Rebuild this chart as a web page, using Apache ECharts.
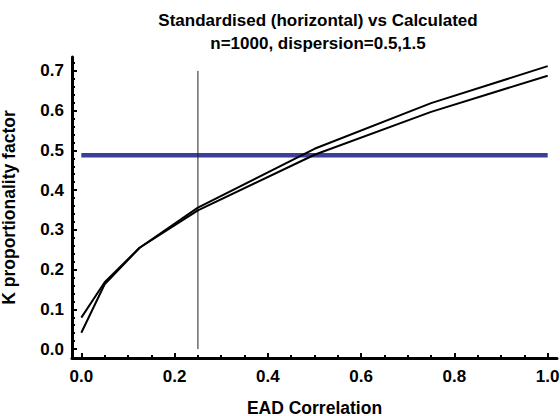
<!DOCTYPE html>
<html>
<head>
<meta charset="utf-8">
<script src="https://cdn.jsdelivr.net/npm/echarts@6/dist/echarts.min.js"></script>
<style>html,body{margin:0;padding:0;background:#fff}#c{width:560px;height:416px}</style>
</head>
<body>
<div id="c"></div>
<script>
const corr = [0, 0.05, 0.125, 0.25, 0.5, 0.75, 1.0];
const kSeriesA = [0.041, 0.163, 0.255, 0.356, 0.504, 0.619, 0.712];
const kSeriesB = [0.079, 0.168, 0.255, 0.349, 0.489, 0.597, 0.688];
const standardK = 0.488;
const standardX = [0, 1];
const markerX = 0.25;
const markerY = [0, 0.7];
const xTickLabels = [0, 0.2, 0.4, 0.6, 0.8, 1.0];
const xMinorTicks = [0.05,0.1,0.15,0.25,0.3,0.35,0.45,0.5,0.55,0.65,0.7,0.75,0.85,0.9,0.95];
const yTickLabels = [0, 0.1, 0.2, 0.3, 0.4, 0.5, 0.6, 0.7];
const yMinorTicks = [0.02,0.04,0.06,0.08,0.12,0.14,0.16,0.18,0.22,0.24,0.26,0.28,0.32,0.34,0.36,0.38,0.42,0.44,0.46,0.48,0.52,0.54,0.56,0.58,0.62,0.64,0.66,0.68,0.72];

const font = "Liberation Sans";
const chart = echarts.init(document.getElementById('c'), null, {renderer: 'svg'});
const lbl = {fontFamily: font, fontWeight: 'bold', fontSize: 17, color: '#000'};
chart.setOption({
  animation: false,
  title: {
    text: 'Standardised (horizontal) vs Calculated\nn=1000, dispersion=0.5,1.5',
    left: 313, top: 4, textAlign: 'center',
    textStyle: {fontFamily: font, fontWeight: 'bold', fontSize: 17, color: '#000', lineHeight: 23}
  },
  grid: {left: 72, right: 3, top: 57, bottom: 58, outerBoundsMode: 'none'},
  xAxis: [{
    type: 'value', min: -0.02, max: 1.02,
    name: 'EAD Correlation', nameLocation: 'middle', nameGap: 41,
    nameTextStyle: {fontFamily: font, fontWeight: 'bold', fontSize: 17.5, color: '#000'},
    axisLine: {show: true, onZero: false, lineStyle: {color: '#000', width: 3}},
    axisTick: {show: true, inside: true, length: 5, lineStyle: {color: '#000', width: 2}, customValues: xTickLabels},
    axisLabel: {...lbl, margin: 10, customValues: xTickLabels, formatter: v => v.toFixed(1)},
    splitLine: {show: false}
  }, {
    type: 'value', min: -0.02, max: 1.02, position: 'bottom',
    axisLine: {show: false, onZero: false},
    axisTick: {show: true, inside: true, length: 3, lineStyle: {color: '#000', width: 2}, customValues: xMinorTicks},
    axisLabel: {show: false},
    splitLine: {show: false}
  }],
  yAxis: [{
    type: 'value', min: -0.0225, max: 0.735,
    name: 'K proportionality factor', nameLocation: 'middle', nameGap: 54,
    nameTextStyle: {fontFamily: font, fontWeight: 'bold', fontSize: 17.5, color: '#000'},
    axisLine: {show: true, onZero: false, lineStyle: {color: '#000', width: 3}},
    axisTick: {show: true, inside: true, length: 5, lineStyle: {color: '#000', width: 2}, customValues: yTickLabels},
    axisLabel: {...lbl, margin: 8, customValues: yTickLabels, formatter: v => v.toFixed(1)},
    splitLine: {show: false}
  }, {
    type: 'value', min: -0.0225, max: 0.735, position: 'left',
    axisLine: {show: false, onZero: false},
    axisTick: {show: true, inside: true, length: 3, lineStyle: {color: '#000', width: 2}, customValues: yMinorTicks},
    axisLabel: {show: false},
    splitLine: {show: false}
  }],
  series: [
    {type: 'line', data: standardX.map(x => [x, standardK]), symbol: 'none',
     lineStyle: {color: '#3d3d9b', width: 4.5}},
    {type: 'line', data: markerY.map(y => [markerX, y]), symbol: 'none',
     lineStyle: {color: '#222', width: 1}},
    {type: 'line', data: corr.map((x, i) => [x, kSeriesA[i]]), symbol: 'none',
     lineStyle: {color: '#000', width: 2}},
    {type: 'line', data: corr.map((x, i) => [x, kSeriesB[i]]), symbol: 'none',
     lineStyle: {color: '#000', width: 2}}
  ]
});
</script>
</body>
</html>
